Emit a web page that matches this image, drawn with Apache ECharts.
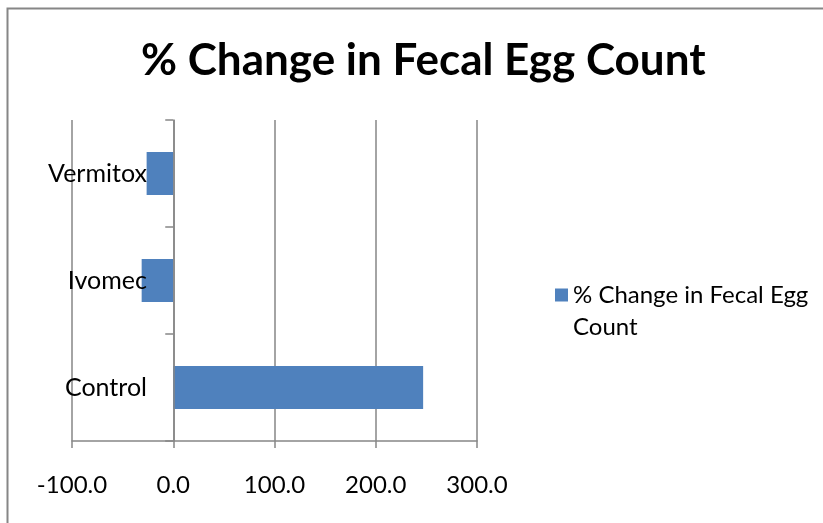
<!DOCTYPE html>
<html>
<head>
<meta charset="utf-8">
<script src="https://cdn.jsdelivr.net/npm/echarts@6/dist/echarts.min.js"></script>
<style>html,body{margin:0;padding:0;background:#fff;}#c{width:823px;height:523px;}</style>
</head>
<body>
<div id="c"></div>
<script>
const categories = ['Control', 'Ivomec', 'Vermitox'];
const values = [246.8, -31.2, -26.3];
const seriesName = '% Change in Fecal Egg Count';
const titleText = '% Change in Fecal Egg Count';

const FONT = 'Lato';
const chart = echarts.init(document.getElementById('c'), null, {renderer: 'canvas'});
chart.setOption({
  animation: false,
  backgroundColor: '#fff',
  title: {
    text: titleText,
    left: 136,
    top: 34,
    textStyle: {fontFamily: FONT, fontWeight: 'bold', fontSize: 44, color: '#000'}
  },
  graphic: [{
    type: 'rect', shape: {x: 7.5, y: 8.5, width: 900, height: 600},
    style: {fill: null, stroke: '#868686', lineWidth: 2}, silent: true
  }],
  legend: {
    left: 550, top: 242, orient: 'vertical',
    itemWidth: 13, itemHeight: 13, itemGap: 8,
    icon: 'rect',
    textStyle: {fontFamily: FONT, fontSize: 24, color: '#000', lineHeight: 32},
    formatter: () => ' \n% Change in Fecal Egg\nCount'
  },
  grid: {left: 72, top: 120, width: 405, height: 321, containLabel: false, outerBoundsMode: 'none'},
  xAxis: {
    type: 'value', min: -100, max: 300, interval: 100,
    axisLine: {show: true, lineStyle: {color: '#868686', width: 1.5}},
    axisTick: {show: true, length: 7, lineStyle: {color: '#868686', width: 1.5}},
    splitLine: {show: true, lineStyle: {color: '#868686', width: 1.5}},
    axisLabel: {fontFamily: FONT, fontSize: 24, color: '#000', margin: 32, formatter: v => v.toFixed(1)}
  },
  yAxis: {
    type: 'category', data: categories, z: 5,
    axisLine: {show: true, onZero: true, lineStyle: {color: '#868686', width: 1.5}},
    axisTick: {show: true, length: 8, lineStyle: {color: '#868686', width: 1.5}},
    axisLabel: {fontFamily: FONT, fontSize: 25, color: '#000', margin: -75}
  },
  series: [{
    name: seriesName, type: 'bar', data: values,
    barCategoryGap: '60%',
    itemStyle: {color: '#4F81BD'}
  }]
});
</script>
</body>
</html>
